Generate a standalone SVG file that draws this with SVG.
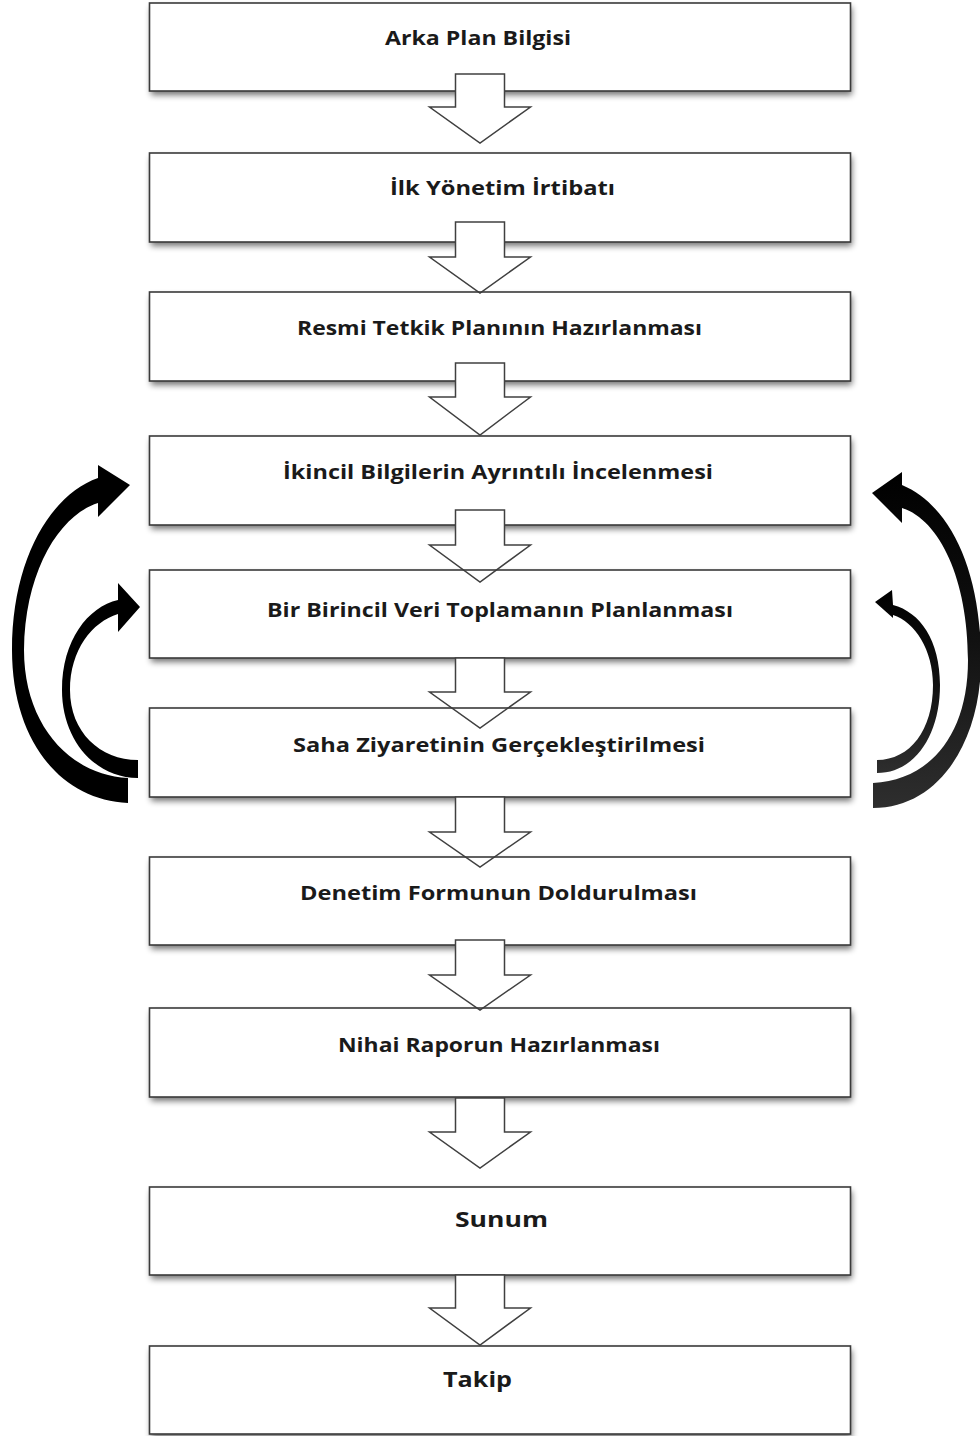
<svg xmlns="http://www.w3.org/2000/svg" width="980" height="1436" viewBox="0 0 980 1436">
<defs>
<filter id="sh" x="-5%" y="-20%" width="110%" height="150%">
<feGaussianBlur stdDeviation="3"/>
</filter>
<linearGradient id="rg" x1="0" y1="0" x2="0" y2="1">
<stop offset="0" stop-color="#000"/>
<stop offset="0.5" stop-color="#111"/>
<stop offset="1" stop-color="#2e2e2e"/>
</linearGradient>
<style>
.shadow{fill:#000;opacity:0.55;filter:url(#sh)}
.bf{fill:#fff;stroke:none}
.bs{fill:none;stroke:#3a3a3a;stroke-width:1.6}
.ba{fill:#fff;stroke:#404040;stroke-width:1.5;stroke-linejoin:miter}
.t{font-family:"Open Sans","Liberation Sans",sans-serif;font-weight:700;font-size:20px;fill:#1a1a1a}
.tb{font-size:21px}
.ca{fill:#000;stroke:none}
.cr{fill:url(#rg);stroke:none}
</style>
</defs>
<rect width="980" height="1436" fill="#fff"/>
<g id="shadows">
<rect class="shadow" x="151" y="7" width="701" height="88"/>
<rect class="shadow" x="151" y="157" width="701" height="89"/>
<rect class="shadow" x="151" y="296" width="701" height="89"/>
<rect class="shadow" x="151" y="440" width="701" height="89"/>
<rect class="shadow" x="151" y="574" width="701" height="88"/>
<rect class="shadow" x="151" y="712" width="701" height="89"/>
<rect class="shadow" x="151" y="861" width="701" height="88"/>
<rect class="shadow" x="151" y="1012" width="701" height="89"/>
<rect class="shadow" x="151" y="1191" width="701" height="88"/>
<rect class="shadow" x="151" y="1350" width="701" height="88"/>
</g>
<g id="fills">
<rect class="bf" x="149.5" y="3" width="701" height="88"/>
<rect class="bf" x="149.5" y="153" width="701" height="89"/>
<rect class="bf" x="149.5" y="292" width="701" height="89"/>
<rect class="bf" x="149.5" y="436" width="701" height="89"/>
<rect class="bf" x="149.5" y="570" width="701" height="88"/>
<rect class="bf" x="149.5" y="708" width="701" height="89"/>
<rect class="bf" x="149.5" y="857" width="701" height="88"/>
<rect class="bf" x="149.5" y="1008" width="701" height="89"/>
<rect class="bf" x="149.5" y="1187" width="701" height="88"/>
<rect class="bf" x="149.5" y="1346" width="701" height="88"/>
</g>
<g id="node1"><rect class="bs" x="149.5" y="3" width="701" height="88"/><text class="t" x="385" y="45" textLength="186" lengthAdjust="spacingAndGlyphs">Arka Plan Bilgisi</text></g>
<g id="connectors1"><polygon class="ba" points="455.5,74 504.5,74 504.5,107 530.5,107 480,143 429.5,107 455.5,107"/></g>
<g id="node2"><rect class="bs" x="149.5" y="153" width="701" height="89"/><text class="t" x="390" y="195" textLength="225" lengthAdjust="spacingAndGlyphs">İlk Yönetim İrtibatı</text></g>
<g id="connectors2"><polygon class="ba" points="455.5,222 504.5,222 504.5,257 530.5,257 480,293 429.5,257 455.5,257"/></g>
<g id="node3"><rect class="bs" x="149.5" y="292" width="701" height="89"/><text class="t" x="297" y="335" textLength="405" lengthAdjust="spacingAndGlyphs">Resmi Tetkik Planının Hazırlanması</text></g>
<g id="connectors3"><polygon class="ba" points="455.5,363 504.5,363 504.5,397 530.5,397 480,435 429.5,397 455.5,397"/></g>
<g id="node4"><rect class="bs" x="149.5" y="436" width="701" height="89"/><text class="t" x="283" y="479" textLength="430" lengthAdjust="spacingAndGlyphs">İkincil Bilgilerin Ayrıntılı İncelenmesi</text></g>
<g id="connectors4"><polygon class="ba" points="455.5,510 504.5,510 504.5,545 530.5,545 480,582 429.5,545 455.5,545"/></g>
<g id="node5"><rect class="bs" x="149.5" y="570" width="701" height="88"/><text class="t" x="267" y="617" textLength="466" lengthAdjust="spacingAndGlyphs">Bir Birincil Veri Toplamanın Planlanması</text></g>
<g id="connectors5"><polygon class="ba" points="455.5,658 504.5,658 504.5,692 530.5,692 480,728 429.5,692 455.5,692"/></g>
<g id="node6"><rect class="bs" x="149.5" y="708" width="701" height="89"/><text class="t" x="293" y="752" textLength="412" lengthAdjust="spacingAndGlyphs">Saha Ziyaretinin Gerçekleştirilmesi</text></g>
<g id="connectors6"><polygon class="ba" points="455.5,797 504.5,797 504.5,832 530.5,832 480,867 429.5,832 455.5,832"/></g>
<g id="node7"><rect class="bs" x="149.5" y="857" width="701" height="88"/><text class="t" x="300" y="900" textLength="397" lengthAdjust="spacingAndGlyphs">Denetim Formunun Doldurulması</text></g>
<g id="connectors7"><polygon class="ba" points="455.5,940 504.5,940 504.5,975 530.5,975 480,1010 429.5,975 455.5,975"/></g>
<g id="node8"><rect class="bs" x="149.5" y="1008" width="701" height="89"/><text class="t" x="338" y="1052" textLength="322" lengthAdjust="spacingAndGlyphs">Nihai Raporun Hazırlanması</text></g>
<g id="connectors8"><polygon class="ba" points="455.5,1098 504.5,1098 504.5,1132 530.5,1132 480,1168 429.5,1132 455.5,1132"/></g>
<g id="node9"><rect class="bs" x="149.5" y="1187" width="701" height="88"/><text class="t tb" x="455" y="1227" textLength="93" lengthAdjust="spacingAndGlyphs">Sunum</text></g>
<g id="connectors9"><polygon class="ba" points="455.5,1275 504.5,1275 504.5,1308 530.5,1308 480,1345 429.5,1308 455.5,1308"/></g>
<g id="node10"><rect class="bs" x="149.5" y="1346" width="701" height="88"/><text class="t tb" x="443" y="1387" textLength="69" lengthAdjust="spacingAndGlyphs">Takip</text></g>
<g id="connectors-feedback">
<path class="ca" d="M128 803 C60 800 12 740 12 650 C12 560 50 495 98 478 L98 465 L130 485 L98 517 L98 503 C60 515 25 570 24 650 C24 725 70 775 128 778 Z"/>
<path class="ca" d="M138 778 C95 778 62 740 62 690 C62 640 88 607 118 600 L118 583 L140 607 L118 632 L118 614 C92 622 70 650 70 690 C70 732 100 760 138 760 Z"/>
<path class="cr" d="M873 808 C940 808 981 740 981 660 C981 570 950 505 902 485 L902 472 L872 493 L902 523 L902 508 C940 520 968 580 968 660 C968 735 930 780 873 783 Z"/>
<path class="cr" d="M877 773 C915 773 940 735 940 685 C940 640 920 612 893 605 L892 590 L875 602 L893 618 L893 615 C915 622 933 650 933 685 C933 730 910 760 877 760 Z"/>
</g>
</svg>
